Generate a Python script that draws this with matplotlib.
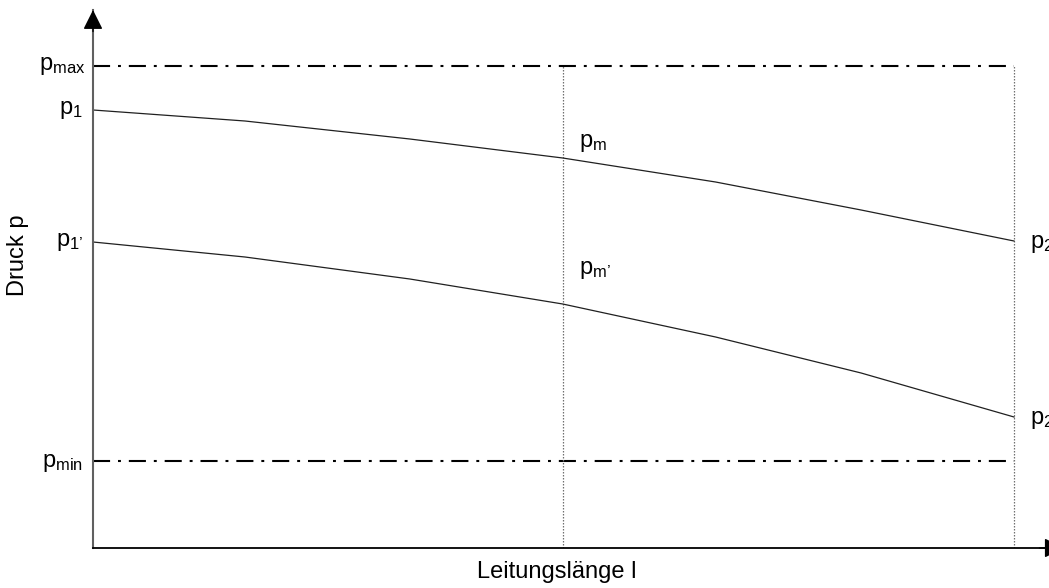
import matplotlib
matplotlib.use('Agg')
from matplotlib import pyplot as plt

plt.rcParams['font.family'] = ['Liberation Sans', 'DejaVu Sans']
plt.rcParams['mathtext.fontset'] = 'custom'
plt.rcParams['mathtext.rm'] = 'Liberation Sans'

# length along the pipe (0 = start, 1 = end) and pressure (arbitrary units)
laenge = [0.0, 0.165, 0.344, 0.51, 0.676, 0.834, 1.0]
druck_oben = [4.38, 4.27, 4.09, 3.90, 3.66, 3.38, 3.07]
druck_unten = [3.06, 2.91, 2.69, 2.44, 2.11, 1.75, 1.31]

p_max = 4.82
p_min = 0.87
l_mitte = 0.51
l_ende = 1.0

x_max = 1.038
y_max = 5.38

STRICH = '\u2019'

fig = plt.figure(figsize=(10.49, 5.88), dpi=100)
ax = fig.add_axes([93 / 1049, 40 / 588, 956 / 1049, 538 / 588])
ax.set_xlim(0, x_max)
ax.set_ylim(0, y_max)
ax.set_xticks([]), ax.set_yticks([])
for s in ['top', 'right']:
    ax.spines[s].set_visible(False)
ax.spines['left'].set_color('#606060')
ax.spines['left'].set_linewidth(1.5)
ax.spines['bottom'].set_color('black')
ax.spines['bottom'].set_linewidth(1.3)

# arrow heads
ax.annotate('', xy=(0, 1), xytext=(0, 0.96), xycoords='axes fraction',
            arrowprops=dict(arrowstyle='-|>,head_length=1.2,head_width=0.6',
                            color='black', lw=1, shrinkA=0, shrinkB=0))
ax.annotate('', xy=(1.0155, 0), xytext=(0.99, 0), xycoords='axes fraction',
            arrowprops=dict(arrowstyle='-|>,head_length=1.2,head_width=0.6',
                            color='black', lw=1, shrinkA=0, shrinkB=0),
            annotation_clip=False)

# limits
dashdot = (0, (8.2, 3.8, 1.4, 3.8))
ax.plot([0, l_ende], [p_max, p_max], color='black', lw=1.5, linestyle=dashdot)
ax.plot([0, l_ende], [p_min, p_min], color='black', lw=1.5, linestyle=dashdot)

# verticals
for lv in [l_mitte, l_ende]:
    ax.plot([lv, lv], [0, p_max], color='#707070', lw=0.9, linestyle=(0, (1.2, 1.2)))

# pressure curves
ax.plot(laenge, druck_oben, color='#202020', lw=0.9)
ax.plot(laenge, druck_unten, color='#202020', lw=0.9)

fs = 17


def label(x, y, txt, dx, dy, ha):
    ax.annotate(txt, xy=(x, y), xytext=(dx, dy), textcoords='offset pixels',
                ha=ha, va='center', fontsize=fs, annotation_clip=False)


label(0, p_max, r'$\mathrm{p_{max}}$', -8, 0, 'right')
label(0, druck_oben[0], r'$\mathrm{p_{1}}$', -10, 0, 'right')
label(0, druck_unten[0], r'$\mathrm{p_{1' + STRICH + '}}$', -10, 0, 'right')
label(0, p_min, r'$\mathrm{p_{min}}$', -10, -2, 'right')
label(l_mitte, druck_oben[3], r'$\mathrm{p_{m}}$', 16, 15, 'left')
label(l_mitte, druck_unten[3], r'$\mathrm{p_{m' + STRICH + '}}$', 16, 34, 'left')
label(l_ende, druck_oben[-1], r'$\mathrm{p_{2}}$', 16, -3, 'left')
label(l_ende, druck_unten[-1], r'$\mathrm{p_{2' + STRICH + '}}$', 16, -3, 'left')

fig.text(557 / 1049, 1 - 572 / 588, 'Leitungslänge l', ha='center', va='center', fontsize=fs)
fig.text(18 / 1049, 1 - 255 / 588, 'Druck p', ha='center', va='center', rotation=90, fontsize=fs)

fig.savefig('out.png', dpi=100)
